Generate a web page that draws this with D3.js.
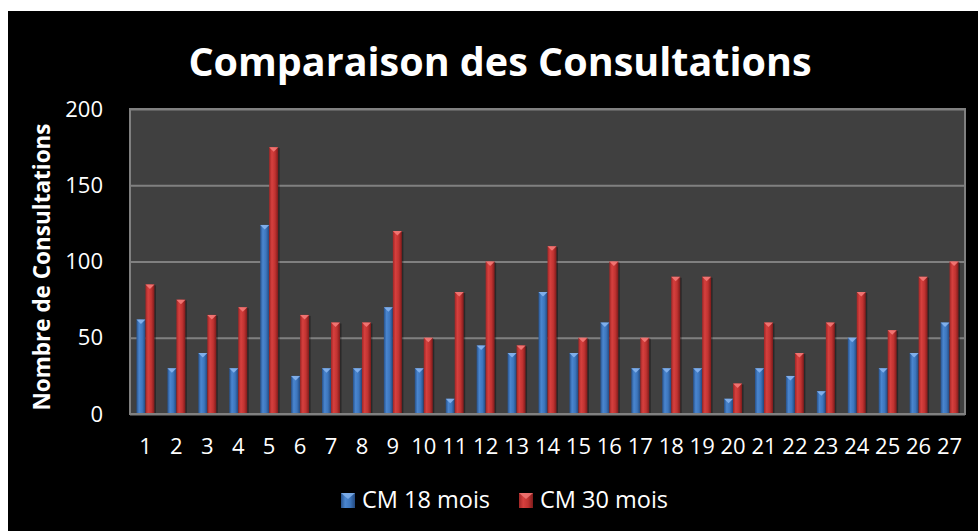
<!DOCTYPE html>
<html>
<head>
<meta charset="utf-8">
<script src="https://cdn.jsdelivr.net/npm/d3@7"></script>
<style>
  html, body { margin: 0; padding: 0; background: #fff; }
  svg { display: block; }
</style>
</head>
<body>
<div id="app"></div>
<script>
// data
const categories = d3.range(1, 28).map(String)
const cm18 = [62, 30, 40, 30, 124, 25, 30, 30, 70, 30, 10, 45, 40, 80, 40, 60, 30, 30, 30, 10, 30, 25, 15, 50, 30, 40, 60]
const cm30 = [85, 75, 65, 70, 175, 65, 60, 60, 120, 50, 80, 100, 45, 110, 50, 100, 50, 90, 90, 20, 60, 40, 60, 80, 55, 90, 100]
const seriesNames = ['CM 18 mois', 'CM 30 mois']
const yTicks = [0, 50, 100, 150, 200]

const W = 978, H = 531
const plot = {left: 130, top: 109, right: 965, bottom: 414}

const svg = d3.select('#app').append('svg')
    .attr('width', W)
    .attr('height', H)
    .attr('font-family', '"Open Sans", sans-serif')

// black chart area
svg.append('rect')
    .attr('x', 8).attr('y', 11)
    .attr('width', W - 8).attr('height', H - 11)
    .attr('fill', '#000')

const defs = svg.append('defs')
const palettes = [
    {id: 'gBlue', stops: ['#27528c', '#4a86d0', '#3d76bd', '#23487e'], cap: '#86b4ee'},
    {id: 'gRed', stops: ['#a12626', '#d6403e', '#c13331', '#7e1b1b'], cap: '#f47a78'},
]
palettes.forEach(p => {
    const g = defs.append('linearGradient').attr('id', p.id)
        .attr('x1', 0).attr('x2', 1).attr('y1', 0).attr('y2', 0)
    g.selectAll('stop').data(p.stops).join('stop')
        .attr('offset', (d, i) => [0, 0.3, 0.65, 1][i])
        .attr('stop-color', d => d)
})

const x0 = d3.scaleBand()
    .domain(categories)
    .range([plot.left, plot.right])
    .paddingInner(0.418)
    .paddingOuter(0.209)

const x1 = d3.scaleBand()
    .domain(seriesNames)
    .range([0, x0.bandwidth()])

const y = d3.scaleLinear()
    .domain([0, 200])
    .range([plot.bottom, plot.top])

// plot background
svg.append('rect')
    .attr('x', plot.left).attr('y', plot.top)
    .attr('width', plot.right - plot.left)
    .attr('height', plot.bottom - plot.top)
    .attr('fill', '#404040')

// gridlines
svg.append('g')
    .attr('transform', `translate(${plot.left},0)`)
    .call(d3.axisLeft(y).tickValues(yTicks).tickSize(-(plot.right - plot.left)).tickFormat(''))
    .call(g => g.select('.domain').remove())
    .call(g => g.selectAll('line').attr('stroke', '#808080').attr('stroke-width', 2))

// bars
const rows = categories.map((c, i) => ({cat: c, values: [cm18[i], cm30[i]]}))

const group = svg.append('g').selectAll('g')
    .data(rows)
    .join('g')
    .attr('transform', d => `translate(${x0(d.cat)},0)`)

const bars = group.selectAll('g')
    .data(d => d.values.map((v, k) => ({v, k, name: seriesNames[k]})))
    .join('g')

// soft shadow on the right side
bars.append('rect')
    .attr('x', d => x1(d.name) + 1.5)
    .attr('y', d => y(d.v) + 1)
    .attr('width', x1.bandwidth())
    .attr('height', d => y(0) - y(d.v) - 1)
    .attr('fill', '#000')
    .attr('opacity', 0.35)

bars.append('rect')
    .attr('x', d => x1(d.name))
    .attr('y', d => y(d.v))
    .attr('width', x1.bandwidth())
    .attr('height', d => y(0) - y(d.v))
    .attr('fill', d => `url(#${palettes[d.k].id})`)

// little bevel cap at the top of every bar
bars.append('path')
    .attr('d', d => {
        const xa = x1(d.name), w = x1.bandwidth(), t = y(d.v)
        return `M${xa},${t}L${xa + w},${t}L${xa + w / 2},${t + 4.5}Z`
    })
    .attr('fill', d => palettes[d.k].cap)
    .attr('opacity', 0.9)

// plot border
svg.append('rect')
    .attr('x', plot.left).attr('y', plot.top)
    .attr('width', plot.right - plot.left)
    .attr('height', plot.bottom - plot.top)
    .attr('fill', 'none')
    .attr('stroke', '#808080')
    .attr('stroke-width', 2)

// y axis labels
svg.append('g')
    .attr('transform', `translate(${plot.left - 4},0)`)
    .call(d3.axisLeft(y).tickValues(yTicks).tickSize(0).tickPadding(23))
    .call(g => g.select('.domain').remove())
    .call(g => g.selectAll('text')
        .attr('fill', '#fff')
        .attr('font-size', 22)
        .attr('font-family', '"Open Sans", sans-serif'))

// x axis labels
svg.append('g')
    .attr('transform', `translate(0,${plot.bottom})`)
    .call(d3.axisBottom(x0).tickSize(0).tickPadding(24))
    .call(g => g.select('.domain').remove())
    .call(g => g.selectAll('text')
        .attr('fill', '#fff')
        .attr('font-size', 22)
        .attr('font-family', '"Open Sans", sans-serif'))

// title
svg.append('text')
    .attr('x', 500)
    .attr('y', 76)
    .attr('text-anchor', 'middle')
    .attr('fill', '#fff')
    .attr('font-size', 39.5)
    .attr('font-weight', 'bold')
    .text('Comparaison des Consultations')

// y title
svg.append('text')
    .attr('transform', 'translate(50,267) rotate(-90)')
    .attr('text-anchor', 'middle')
    .attr('fill', '#fff')
    .attr('font-size', 22.5)
    .attr('font-weight', 'bold')
    .text('Nombre de Consultations')

// legend
const legendX = [341, 519]
const legend = svg.append('g').selectAll('g')
    .data(seriesNames)
    .join('g')
    .attr('transform', (d, i) => `translate(${legendX[i]},493)`)

legend.append('rect')
    .attr('width', 14).attr('height', 15)
    .attr('fill', (d, i) => `url(#${palettes[i].id})`)
legend.append('path')
    .attr('d', 'M0,0L14,0L7,6Z')
    .attr('fill', (d, i) => palettes[i].cap)
    .attr('opacity', 0.8)
legend.append('text')
    .attr('x', 21)
    .attr('y', 15)
    .attr('fill', '#fff')
    .attr('font-size', 23.5)
    .text(d => d)
</script>
</body>
</html>
